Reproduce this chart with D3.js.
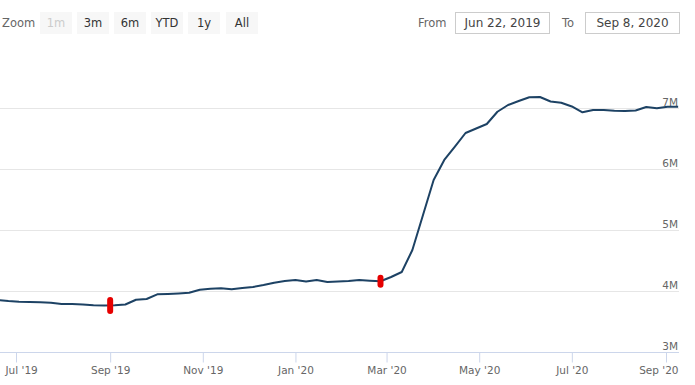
<!DOCTYPE html>
<html>
<head>
<meta charset="utf-8">
<script src="https://cdn.jsdelivr.net/npm/d3@7"></script>
<style>
  html, body { margin: 0; padding: 0; background: #fff; }
  svg { display: block; font-family: "DejaVu Sans", sans-serif; }
</style>
</head>
<body>
<svg id="chart" width="695" height="385"></svg>
<script>
// weekly series (Wednesdays), values in millions
const dates = [
  '2019-06-19','2019-06-26','2019-07-03','2019-07-10','2019-07-17','2019-07-24','2019-07-31',
  '2019-08-07','2019-08-14','2019-08-21','2019-08-28','2019-09-04','2019-09-11','2019-09-18',
  '2019-09-25','2019-10-02','2019-10-09','2019-10-16','2019-10-23','2019-10-30','2019-11-06',
  '2019-11-13','2019-11-20','2019-11-27','2019-12-04','2019-12-11','2019-12-18','2019-12-25',
  '2020-01-01','2020-01-08','2020-01-15','2020-01-22','2020-01-29','2020-02-05','2020-02-12',
  '2020-02-19','2020-02-26','2020-03-04','2020-03-11','2020-03-18','2020-03-25','2020-04-01',
  '2020-04-08','2020-04-15','2020-04-22','2020-04-29','2020-05-06','2020-05-13','2020-05-20',
  '2020-05-27','2020-06-03','2020-06-10','2020-06-17','2020-06-24','2020-07-01','2020-07-08',
  '2020-07-15','2020-07-22','2020-07-29','2020-08-05','2020-08-12','2020-08-19','2020-08-26',
  '2020-09-02','2020-09-09'
];
const values = [
  3.852, 3.836, 3.825, 3.820, 3.815, 3.808, 3.787,
  3.787, 3.779, 3.766, 3.762, 3.766, 3.779, 3.857,
  3.869, 3.946, 3.951, 3.959, 3.970, 4.021, 4.038,
  4.044, 4.028, 4.049, 4.066, 4.098, 4.136, 4.164,
  4.180, 4.156, 4.180, 4.148, 4.156, 4.164, 4.180,
  4.169, 4.159, 4.230, 4.311, 4.672, 5.246, 5.820,
  6.148, 6.366, 6.590, 6.664, 6.738, 6.939, 7.049,
  7.115, 7.177, 7.180, 7.107, 7.087, 7.025, 6.930,
  6.967, 6.967, 6.954, 6.951, 6.959, 7.016, 6.995,
  7.021, 7.021
];
const flagDates = ['2019-09-01', '2020-02-26'];
const xTicks = ['2019-07-01','2019-09-01','2019-11-01','2020-01-01','2020-03-01','2020-05-01','2020-07-01','2020-09-01'];
const yTicks = [3, 4, 5, 6, 7];
const zoomButtons = ['1m', '3m', '6m', 'YTD', '1y', 'All'];
const rangeFrom = 'Jun 22, 2019';
const rangeTo = 'Sep 8, 2020';

const parse = d3.utcParse('%Y-%m-%d');
const series = dates.map((d, i) => ({ date: parse(d), value: values[i] }));

const svg = d3.select('#chart');
const plot = { left: 0, right: 679, top: 50, bottom: 352 };

const x = d3.scaleUtc()
  .domain([parse('2019-07-01'), parse('2020-09-01')])
  .range([16, 666]);
const y = d3.scaleLinear()
  .domain([3, 7.9])
  .range([plot.bottom, plot.bottom - 4.9 * 61]);

// --- range selector (top bar)
const bar = svg.append('g');
bar.append('text').attr('x', 2).attr('y', 26.5)
  .attr('font-size', 11.5).attr('fill', '#666').text('Zoom');

const btnX = [40, 77, 114, 151, 188, 226];
zoomButtons.forEach((b, i) => {
  const g = bar.append('g').attr('transform', `translate(${btnX[i]},12)`);
  g.append('rect').attr('width', 32).attr('height', 22).attr('fill', '#f7f7f7');
  g.append('text').attr('x', 16).attr('y', 15).attr('text-anchor', 'middle')
    .attr('font-size', 11.5).attr('fill', i === 0 ? '#cccccc' : '#333').text(b);
});

bar.append('text').attr('x', 418).attr('y', 27)
  .attr('font-size', 11.5).attr('fill', '#666').text('From');
bar.append('rect').attr('x', 455.5).attr('y', 12.5).attr('width', 94).attr('height', 21)
  .attr('fill', '#fff').attr('stroke', '#cccccc');
bar.append('text').attr('x', 502.5).attr('y', 27).attr('text-anchor', 'middle')
  .attr('font-size', 12).attr('fill', '#444').text(rangeFrom);
bar.append('text').attr('x', 562).attr('y', 27)
  .attr('font-size', 11.5).attr('fill', '#666').text('To');
bar.append('rect').attr('x', 585.5).attr('y', 12.5).attr('width', 94).attr('height', 21)
  .attr('fill', '#fff').attr('stroke', '#cccccc');
bar.append('text').attr('x', 632.5).attr('y', 27).attr('text-anchor', 'middle')
  .attr('font-size', 12).attr('fill', '#444').text(rangeTo);

// --- grid + y labels
const grid = svg.append('g');
grid.selectAll('line').data(yTicks.filter(v => v !== 3)).enter().append('line')
  .attr('x1', plot.left).attr('x2', plot.right)
  .attr('y1', d => Math.round(y(d)) + 0.5).attr('y2', d => Math.round(y(d)) + 0.5)
  .attr('stroke', '#e6e6e6');
grid.selectAll('text').data(yTicks).enter().append('text')
  .attr('x', 678).attr('y', d => y(d) - 2.5).attr('text-anchor', 'end')
  .attr('font-size', 10.5).attr('fill', '#666').text(d => d + 'M');

// --- x axis
const xAxis = d3.axisBottom(x)
  .tickValues(xTicks.map(parse))
  .tickFormat(d3.utcFormat("%b '%y"))
  .tickSize(10).tickPadding(4);
const ax = svg.append('g').attr('transform', `translate(0,${plot.bottom + 0.5})`).call(xAxis);
ax.select('.domain').attr('d', `M${plot.left},0H${plot.right}`).attr('stroke', '#ccd6eb');
ax.selectAll('.tick line').attr('stroke', '#ccd6eb');
ax.selectAll('.tick text').attr('fill', '#666').attr('font-size', 10.5)
  .attr('font-family', '"DejaVu Sans", sans-serif');
// keep edge labels inside the chart, as the original does
ax.selectAll('.tick text').each(function (d, i, nodes) {
  const t = d3.select(this);
  if (i === 0) t.attr('text-anchor', 'start').attr('x', 5 - x(d));
  if (i === nodes.length - 1) t.attr('text-anchor', 'end').attr('x', 678 - x(d));
});

// --- line
svg.append('clipPath').attr('id', 'clip').append('rect')
  .attr('x', plot.left).attr('y', plot.top).attr('width', plot.right - plot.left).attr('height', plot.bottom - plot.top);

const line = d3.line().x(d => x(d.date)).y(d => y(d.value));
svg.append('path').datum(series).attr('clip-path', 'url(#clip)')
  .attr('d', line).attr('fill', 'none')
  .attr('stroke', '#1d4264').attr('stroke-width', 2).attr('stroke-linejoin', 'round');

// --- flags, placed on the series
const bis = d3.bisector(d => d.date).left;
function valueAt(dt) {
  const i = bis(series, dt);
  const a = series[i - 1], b = series[i];
  if (!a) return b.value;
  if (!b) return a.value;
  const t = (dt - a.date) / (b.date - a.date);
  return a.value + t * (b.value - a.value);
}
const flagHeights = [17, 13];
flagDates.forEach((d, i) => {
  const dt = parse(d);
  const cx = x(dt), cy = y(valueAt(dt));
  const h = flagHeights[i];
  svg.append('rect').attr('x', cx - 3).attr('y', cy - h / 2)
    .attr('width', 6).attr('height', h).attr('rx', 3)
    .attr('fill', '#e60000');
});
</script>
</body>
</html>
